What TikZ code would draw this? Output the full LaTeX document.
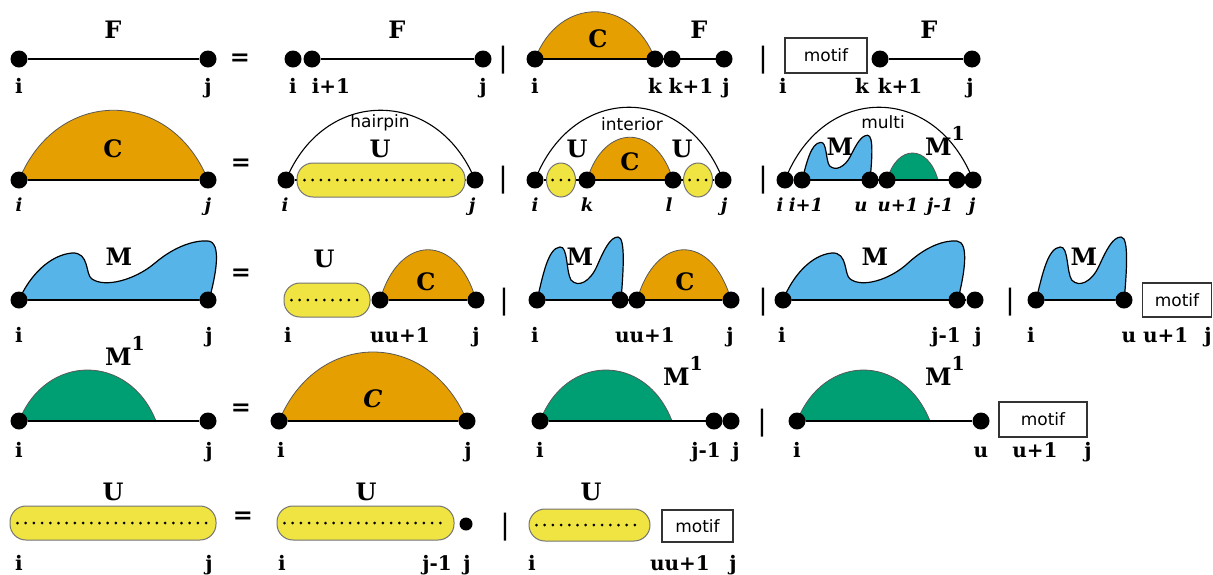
\documentclass[tikz,border=0pt]{standalone}
\usepackage{fontspec}
\setmainfont{DejaVu Serif}
\newfontfamily\sansfam{DejaVu Sans}
\usetikzlibrary{backgrounds,shapes.geometric}
\definecolor{corange}{HTML}{E69F00}
\definecolor{cblue}{HTML}{56B4E9}
\definecolor{cgreen}{HTML}{009E73}
\definecolor{cyellow}{HTML}{F0E442}
\newcommand{\supone}{\raisebox{0.62em}{\fontsize{9.5}{9.5}\selectfont 1}}
\tikzset{
 bigm/.pic={\path[mshape] (0,0) .. controls (11,-25) and (31,-45) .. (53,-47) .. controls (71,-48) and (66,-25) .. (73,-21) .. controls (86,-12) and (116,-20) .. (136,-37) .. controls (156,-54) and (176,-60) .. (189,-59) .. controls (203,-58) and (197,-25) .. (190,0) -- cycle;},
 smallm/.pic={\path[mshape] (0,0) .. controls (6,-25) and (11,-52) .. (23,-53) .. controls (31,-54) and (29,-28) .. (34,-20) .. controls (41,-12) and (53,-18) .. (60,-34) .. controls (67,-50) and (73,-63) .. (81,-63) .. controls (89,-63) and (86,-25) .. (84,0) -- cycle;}
}
\begin{document}
\begin{tikzpicture}[x=0.5pt,y=-0.5pt,
  bdot/.style={circle,fill=black,inner sep=0pt,minimum size=8.5pt},
  sdot/.style={circle,fill=black,inner sep=0pt,minimum size=6.5pt},
  bline/.style={line width=0.65pt},
  carc/.style={fill=corange,draw=black!65,line width=0.4pt},
  garc/.style={fill=cgreen,draw=black!65,line width=0.4pt},
  bigarc/.style={draw=black,line width=0.55pt},
  mshape/.style={fill=cblue,draw=black,line width=0.6pt},
  ubox/.style={rectangle,fill=cyellow,draw=black!55,line width=0.5pt,rounded corners=8pt,minimum height=17pt,inner sep=0pt},
  uell/.style={ellipse,fill=cyellow,draw=black!55,line width=0.5pt,minimum width=14.5pt,minimum height=17pt,inner sep=0pt},
  dotline/.style={line width=1.5pt,line cap=round,dash pattern=on 0pt off 4.1pt},
  motifbox/.style={rectangle,draw=black!80,line width=0.7pt,fill=white,inner sep=0pt,font=\sansfam\fontsize{8.5}{10}\selectfont},
  bigl/.style={anchor=base,font=\fontsize{12}{14}\selectfont\bfseries},
  ibigl/.style={anchor=base,font=\fontsize{12}{14}\selectfont\bfseries\itshape},
  labl/.style={anchor=base,font=\fontsize{10}{12}\selectfont\bfseries},
  ilabl/.style={anchor=base,font=\fontsize{9}{11}\selectfont\bfseries\itshape},
  wordl/.style={anchor=base,font=\sansfam\fontsize{8.5}{10}\selectfont},
  eqsign/.style={font=\fontsize{12}{14}\selectfont\bfseries},
  sepbar/.style={font=\sansfam\fontsize{14}{16}\selectfont},
]
\useasboundingbox (0,0) rectangle (1213,574);

%================ Row 1 ================
\node[bdot] (a1) at (19,59) {};
\node[bdot] (a2) at (208,59) {};
\node[bdot] (b1) at (293,59) {};
\node[bdot] (b2) at (312,59) {};
\node[bdot] (b3) at (483,59) {};
\node[bdot] (c1) at (535,59) {};
\node[bdot] (c2) at (655,59) {};
\node[bdot] (c3) at (672,59) {};
\node[bdot] (c4) at (724,59) {};
\node[motifbox,minimum width=41pt,minimum height=17.5pt] (mo1) at (826,55.5) {motif};
\node[bdot] (d1) at (880,59) {};
\node[bdot] (d2) at (972,59) {};
\begin{scope}[on background layer]
  \path[carc] (c1.center) .. controls +(24,-63) and +(-24,-63) .. (c2.center) -- cycle;
  \draw[bline] (a1) -- (a2);
  \draw[bline] (b2) -- (b3);
  \draw[bline] (c1.center) -- (c4.center);
  \draw[bline] (d1) -- (d2);
\end{scope}
\node[bigl] (t1a) at (113,38) {F};
\node[eqsign] (eq1) at (240,60) {=};
\node[bigl] (t1b) at (397,38) {F};
\node[sepbar] (s1a) at (503,60) {|};
\node[bigl] (t1c) at (598,47) {C};
\node[bigl] (t1d) at (699,38) {F};
\node[sepbar] (s1b) at (763,60) {|};
\node[bigl] (t1e) at (929,38) {F};
\node[labl] (l1a) at (19,93) {i};
\node[labl] (l1b) at (208,93) {j};
\node[labl] (l1c) at (293,93) {i};
\node[labl] (l1d) at (331,93) {i+1};
\node[labl] (l1e) at (483,93) {j};
\node[labl] (l1f) at (535,93) {i};
\node[labl] (l1g) at (655,93) {k};
\node[labl] (l1h) at (691,93) {k+1};
\node[labl] (l1i) at (726,93) {j};
\node[labl] (l1j) at (783,93) {i};
\node[labl] (l1k) at (862,93) {k};
\node[labl] (l1l) at (900,93) {k+1};
\node[labl] (l1m) at (970,93) {j};

%================ Row 2 ================
\node[bdot] (e1) at (19,180) {};
\node[bdot] (e2) at (208,180) {};
\node[bdot] (f1) at (286,180) {};
\node[bdot] (f2) at (475,180) {};
\node[ubox,minimum width=84pt] (u1) at (381,180) {};
\draw[dotline] ([xshift=4pt]u1.west) -- ([xshift=-4pt]u1.east);
\node[bdot] (g1) at (535,180) {};
\node[bdot] (g2) at (587,180) {};
\node[bdot] (g3) at (673,180) {};
\node[bdot] (g4) at (723,180) {};
\node[uell] (el1) at (561,180) {};
\node[uell] (el2) at (698,180) {};
\draw[dotline] ([xshift=-4.2pt]el1.center) -- ([xshift=4.2pt]el1.center);
\draw[dotline] ([xshift=-4.2pt]el2.center) -- ([xshift=4.2pt]el2.center);
\node[bdot] (h1) at (785,180) {};
\node[bdot] (h2) at (802,180) {};
\node[bdot] (h3) at (870,180) {};
\node[bdot] (h4) at (887,180) {};
\node[bdot] (h5) at (957,180) {};
\node[bdot] (h6) at (973,180) {};
\coordinate (h4e) at (938,180);
\begin{scope}[on background layer]
  \path[carc] (e1.center) .. controls +(38,-93) and +(-38,-93) .. (e2.center) -- cycle;
  \draw[bigarc] (f1.center) .. controls +(38,-93) and +(-38,-93) .. (f2.center);
  \draw[bigarc] (g1.center) .. controls +(38,-97) and +(-38,-97) .. (g4.center);
  \path[carc] (g2.center) .. controls +(17,-57) and +(-17,-57) .. (g3.center) -- cycle;
  \draw[bigarc] (h1.center) .. controls +(38,-97) and +(-38,-97) .. (h6.center);
  \pic[xscale=0.81,yscale=0.71] at (h2.center) {smallm};
  \path[garc] (h4.center) .. controls +(10,-36) and +(-10,-36) .. (h4e) -- cycle;
  \draw[bline] (e1) -- (e2);
  \draw[bline] (f1) -- (f2);
  \draw[bline] (g1) -- (g4);
  \draw[bline] (h1) -- (h6);
\end{scope}
\node[bigl] (t2a) at (113,157) {C};
\node[eqsign] (eq2) at (241,165) {=};
\node[wordl] (w1) at (380,127) {hairpin};
\node[bigl] (t2b) at (380,157) {U};
\node[sepbar] (s2a) at (503,180) {|};
\node[wordl] (w2) at (632,130) {interior};
\node[bigl] (t2c) at (577,157) {U};
\node[bigl] (t2d) at (682,157) {U};
\node[bigl] (t2e) at (630,170) {C};
\node[sepbar] (s2b) at (763,180) {|};
\node[wordl] (w3) at (883,128) {multi};
\node[bigl] (t2f) at (840,155) {M};
\node[bigl] (t2g) at (945,155) {M\supone};
\node[ilabl] (l2a) at (19,211) {i};
\node[ilabl] (l2b) at (208,211) {j};
\node[ilabl] (l2c) at (285,211) {i};
\node[ilabl] (l2d) at (472,211) {j};
\node[ilabl] (l2e) at (535,211) {i};
\node[ilabl] (l2f) at (587,211) {k};
\node[ilabl] (l2g) at (669,211) {l};
\node[ilabl] (l2h) at (724,211) {j};
\node[ilabl] (l2i) at (780,211) {i};
\node[ilabl] (l2j) at (806,211) {i+1};
\node[ilabl] (l2k) at (861,211) {u};
\node[ilabl] (l2l) at (898,211) {u+1};
\node[ilabl] (l2m) at (940,211) {j-1};
\node[ilabl] (l2n) at (972,211) {j};

%================ Row 3 ================
\node[bdot] (i1) at (19,300) {};
\node[bdot] (i2) at (208,300) {};
\node[ubox,minimum width=43pt] (u2) at (327,300) {};
\draw[dotline] ([xshift=4pt]u2.west) -- ([xshift=-4pt]u2.east);
\node[bdot] (j1) at (380,300) {};
\node[bdot] (j2) at (476,300) {};
\node[bdot] (k1) at (537,300) {};
\node[bdot] (k2) at (620,300) {};
\node[bdot] (k3) at (637,300) {};
\node[bdot] (k4) at (731,300) {};
\node[bdot] (m1) at (783,300) {};
\node[bdot] (m2) at (957,300) {};
\node[bdot] (m3) at (975,300) {};
\node[bdot] (n1) at (1036,300) {};
\node[bdot] (n2) at (1124,300) {};
\node[motifbox,minimum width=34.5pt,minimum height=17pt] (mo2) at (1177,300) {motif};
\begin{scope}[on background layer]
  \pic at (i1.center) {bigm};
  \path[carc] (j1.center) .. controls +(19,-67) and +(-19,-67) .. (j2.center) -- cycle;
  \pic at (k1.center) {smallm};
  \path[carc] (k3.center) .. controls +(19,-67) and +(-19,-67) .. (k4.center) -- cycle;
  \pic[xscale=0.92] at (m1.center) {bigm};
  \pic[xscale=1.05] at (n1.center) {smallm};
  \draw[bline] (i1) -- (i2);
  \draw[bline] (j1) -- (j2);
  \draw[bline] (k1) -- (k4);
  \draw[bline] (m1) -- (m3);
  \draw[bline] (n1) -- (n2);
\end{scope}
\node[bigl] (t3a) at (119,265) {M};
\node[eqsign] (eq3) at (241,275) {=};
\node[bigl] (t3b) at (324,267) {U};
\node[bigl] (t3c) at (426,290) {C};
\node[sepbar] (s3a) at (504,302) {|};
\node[bigl] (t3d) at (580,265) {M};
\node[bigl] (t3e) at (685,290) {C};
\node[sepbar] (s3b) at (763,302) {|};
\node[bigl] (t3f) at (875,265) {M};
\node[sepbar] (s3c) at (1010,302) {|};
\node[bigl] (t3g) at (1084,265) {M};
\node[labl] (l3a) at (19,342) {i};
\node[labl] (l3b) at (209,342) {j};
\node[labl] (l3c) at (288,342) {i};
\node[labl] (l3d) at (400,342) {uu+1};
\node[labl] (l3e) at (476,342) {j};
\node[labl] (l3f) at (535,342) {i};
\node[labl] (l3g) at (645,342) {uu+1};
\node[labl] (l3h) at (730,342) {j};
\node[labl] (l3i) at (782,342) {i};
\node[labl] (l3j) at (946,342) {j-1};
\node[labl] (l3k) at (978,342) {j};
\node[labl] (l3l) at (1031,342) {i};
\node[labl] (l3m) at (1155,342) {u u+1};
\node[labl] (l3n) at (1208,342) {j};

%================ Row 4 ================
\node[bdot] (p1) at (19,421) {};
\node[bdot] (p2) at (208,421) {};
\coordinate (p1e) at (156,421);
\node[bdot] (q1) at (279,421) {};
\node[bdot] (q2) at (467,421) {};
\node[bdot] (r1) at (540,421) {};
\node[bdot] (r2) at (714,421) {};
\node[bdot] (r3) at (731,421) {};
\coordinate (r1e) at (672,421);
\node[bdot] (v1) at (797,421) {};
\node[bdot] (v2) at (981,421) {};
\coordinate (v1e) at (930,421);
\node[motifbox,minimum width=44pt,minimum height=17.5pt] (mo3) at (1043,419.5) {motif};
\begin{scope}[on background layer]
  \path[garc] (p1.center) .. controls +(27,-68) and +(-27,-68) .. (p1e) -- cycle;
  \path[carc] (q1.center) .. controls +(38,-92) and +(-38,-92) .. (q2.center) -- cycle;
  \path[garc] (r1.center) .. controls +(26,-68) and +(-26,-68) .. (r1e) -- cycle;
  \path[garc] (v1.center) .. controls +(27,-68) and +(-27,-68) .. (v1e) -- cycle;
  \draw[bline] (p1) -- (p2);
  \draw[bline] (q1) -- (q2);
  \draw[bline] (r1) -- (r3);
  \draw[bline] (v1) -- (v2);
\end{scope}
\node[bigl] (t4a) at (125,365) {M\supone};
\node[eqsign] (eq4) at (241,410) {=};
\node[ibigl] (t4b) at (373,407) {C};
\node[bigl] (t4c) at (683,385) {M\supone};
\node[sepbar] (s4a) at (762,423) {|};
\node[bigl] (t4d) at (945,385) {M\supone};
\node[labl] (l4a) at (19,457) {i};
\node[labl] (l4b) at (209,457) {j};
\node[labl] (l4c) at (281,457) {i};
\node[labl] (l4d) at (468,457) {j};
\node[labl] (l4e) at (540,457) {i};
\node[labl] (l4f) at (706,457) {j-1};
\node[labl] (l4g) at (736,457) {j};
\node[labl] (l4h) at (797,457) {i};
\node[labl] (l4i) at (981,457) {u};
\node[labl] (l4j) at (1035,457) {u+1};
\node[labl] (l4k) at (1088,457) {j};

%================ Row 5 ================
\node[ubox,minimum width=103pt] (u3) at (113,523) {};
\draw[dotline] ([xshift=4pt]u3.west) -- ([xshift=-4pt]u3.east);
\node[ubox,minimum width=88.5pt] (u4) at (365.5,523) {};
\draw[dotline] ([xshift=4pt]u4.west) -- ([xshift=-4pt]u4.east);
\node[sdot] (x1) at (466,524) {};
\node[ubox,minimum width=60.5pt,minimum height=16pt] (u5) at (589.5,525) {};
\draw[dotline] ([xshift=4pt]u5.west) -- ([xshift=-4pt]u5.east);
\node[motifbox,minimum width=35.5pt,minimum height=16pt] (mo4) at (697.5,526) {motif};
\node[bigl] (t5a) at (113,500) {U};
\node[eqsign] (eq5) at (243,518) {=};
\node[bigl] (t5b) at (366,500) {U};
\node[sepbar] (s5a) at (505,527) {|};
\node[bigl] (t5c) at (591,500) {U};
\node[labl] (l5a) at (19,570) {i};
\node[labl] (l5b) at (209,570) {j};
\node[labl] (l5c) at (282,570) {i};
\node[labl] (l5d) at (437,570) {j-1};
\node[labl] (l5e) at (467,570) {j};
\node[labl] (l5f) at (532,570) {i};
\node[labl] (l5g) at (680,570) {uu+1};
\node[labl] (l5h) at (733,570) {j};
\end{tikzpicture}
\end{document}
